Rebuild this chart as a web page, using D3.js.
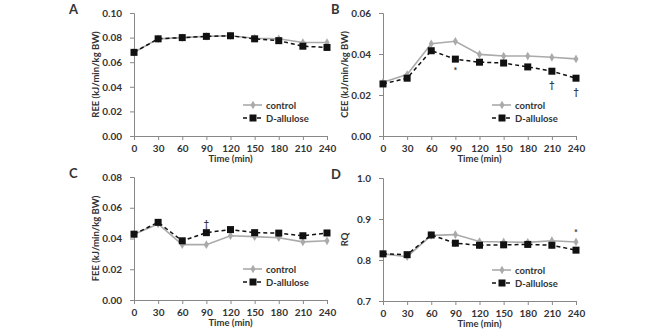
<!DOCTYPE html>
<html>
<head>
<meta charset="utf-8">
<script src="https://cdn.jsdelivr.net/npm/d3@7"></script>
<style>
  body { margin: 0; background: #fff; }
  svg text { font-family: Lato, "Open Sans", sans-serif; font-weight: bold; fill: #333; }
</style>
</head>
<body>
<svg id="chart" width="660" height="330"></svg>
<script>
// time points (min)
const times = [0, 30, 60, 90, 120, 150, 180, 210, 240];

// panel A: REE
const reeControl = [0.068, 0.079, 0.080, 0.081, 0.0815, 0.0795, 0.079, 0.076, 0.076];
const reeAllulose = [0.068, 0.079, 0.080, 0.081, 0.0815, 0.079, 0.0775, 0.073, 0.072];

// panel B: CEE
const ceeControl = [0.0262, 0.0300, 0.0450, 0.0462, 0.0398, 0.0390, 0.0390, 0.0384, 0.0376];
const ceeAllulose = [0.0254, 0.0282, 0.0416, 0.0375, 0.0360, 0.0356, 0.0337, 0.0316, 0.0282];

// panel C: FEE
const feeControl = [0.0428, 0.0495, 0.0360, 0.0360, 0.0418, 0.0412, 0.0405, 0.0378, 0.0385];
const feeAllulose = [0.0428, 0.0505, 0.0385, 0.0438, 0.0458, 0.0438, 0.0435, 0.0418, 0.0436];

// panel D: RQ
const rqControl = [0.815, 0.808, 0.860, 0.862, 0.845, 0.844, 0.843, 0.847, 0.844];
const rqAllulose = [0.815, 0.813, 0.861, 0.841, 0.836, 0.837, 0.838, 0.836, 0.824];
const rqErr = [0.006, 0.006, 0.006, 0.008, 0.008, 0.008, 0.007, 0.008, 0.007];

const panels = [
  { letter: "A", ylab: "REE (kJ/min/kg BW)", yDomain: [0, 0.10], yTicks: [0, 0.02, 0.04, 0.06, 0.08, 0.10], fmt: ".2f",
    ctrl: reeControl, allu: reeAllulose, err: null, x0: 134, y0: 13, marks: [] },
  { letter: "B", ylab: "CEE (kJ/min/kg BW)", yDomain: [0, 0.06], yTicks: [0, 0.02, 0.04, 0.06], fmt: ".2f",
    ctrl: ceeControl, allu: ceeAllulose, err: null, x0: 383, y0: 13,
    marks: [{ t: 90, s: "*", dy: 11 }, { t: 210, s: "†", dy: 13 }, { t: 240, s: "†", dy: 13 }] },
  { letter: "C", ylab: "FEE (kJ/min/kg BW)", yDomain: [0, 0.08], yTicks: [0, 0.02, 0.04, 0.06, 0.08], fmt: ".2f",
    ctrl: feeControl, allu: feeAllulose, err: null, x0: 134, y0: 177,
    marks: [{ t: 90, s: "†", dy: -6 }] },
  { letter: "D", ylab: "RQ", yDomain: [0.7, 1.0], yTicks: [0.7, 0.8, 0.9, 1.0], fmt: ".1f",
    ctrl: rqControl, allu: rqAllulose, err: rqErr, x0: 383, y0: 178,
    marks: [{ t: 240, s: "*", dy: -14 }] }
];

const W = 193, H = 123;
const svg = d3.select("#chart");

panels.forEach(p => {
  const g = svg.append("g").attr("transform", `translate(${p.x0},${p.y0})`);
  const x = d3.scaleLinear().domain([0, 240]).range([0, W]);
  const y = d3.scaleLinear().domain(p.yDomain).range([H, 0]);

  const yAxis = g.append("g").call(d3.axisLeft(y).tickValues(p.yTicks).tickFormat(d3.format(p.fmt)).tickSize(4).tickPadding(8));
  const xAxis = g.append("g").attr("transform", `translate(0,${H})`)
    .call(d3.axisBottom(x).tickValues(times).tickSize(4).tickPadding(5));
  [yAxis, xAxis].forEach(a => {
    a.select(".domain").attr("stroke", "#888");
    a.selectAll(".tick line").attr("stroke", "#888");
    a.selectAll("text").style("font-size", "10px").attr("fill", "#333");
  });

  g.append("text").attr("x", W / 2).attr("y", H + 26).attr("text-anchor", "middle")
    .style("font-size", "9.5px").text("Time (min)");
  g.append("text").attr("transform", `translate(-35,${H / 2}) rotate(-90)`).attr("text-anchor", "middle")
    .style("font-size", "9.5px").text(p.ylab);
  g.append("text").attr("x", p.letter === "A" || p.letter === "C" ? -65 : -52).attr("y", 1)
    .style("font-size", "13px").attr("fill", "#111").text(p.letter);

  const line = d3.line().x((d, i) => x(times[i])).y(d => y(d));

  // error bars
  if (p.err) {
    [[p.ctrl, "#aaa"], [p.allu, "#222"]].forEach(([s, c]) => {
      g.append("g").selectAll("line").data(s).join("line")
        .attr("x1", (d, i) => x(times[i])).attr("x2", (d, i) => x(times[i]))
        .attr("y1", (d, i) => y(d - p.err[i])).attr("y2", (d, i) => y(d + p.err[i]))
        .attr("stroke", c).attr("stroke-width", 1);
    });
  }

  g.append("path").datum(p.ctrl).attr("d", line).attr("fill", "none")
    .attr("stroke", "#aaa").attr("stroke-width", 1.6);
  g.append("path").datum(p.allu).attr("d", line).attr("fill", "none")
    .attr("stroke", "#111").attr("stroke-width", 1.5).attr("stroke-dasharray", "4,3");

  g.append("g").selectAll("path").data(p.ctrl).join("path")
    .attr("d", d3.symbol(d3.symbolDiamond, 22))
    .attr("transform", (d, i) => `translate(${x(times[i])},${y(d)})`).attr("fill", "#aaa");
  g.append("g").selectAll("rect").data(p.allu).join("rect")
    .attr("x", (d, i) => x(times[i]) - 3.5).attr("y", d => y(d) - 3.5)
    .attr("width", 7).attr("height", 7).attr("fill", "#111");

  // significance marks
  p.marks.forEach(m => {
    const i = times.indexOf(m.t);
    g.append("text").attr("x", x(m.t)).attr("y", y(p.allu[i]) + m.dy + (m.dy > 0 ? 4 : 0))
      .attr("text-anchor", "middle").style("font-size", "9px").text(m.s);
  });

  // legend
  const lg = g.append("g").attr("transform", `translate(109,${H - 31})`);
  lg.append("line").attr("x1", 0).attr("x2", 19).attr("y1", 0).attr("y2", 0).attr("stroke", "#aaa").attr("stroke-width", 1.6);
  lg.append("path").attr("d", d3.symbol(d3.symbolDiamond, 22)).attr("transform", "translate(10,0)").attr("fill", "#aaa");
  lg.append("text").attr("x", 23).attr("y", 3.5).style("font-size", "9.5px").text("control");
  lg.append("line").attr("x1", 0).attr("x2", 19).attr("y1", 13).attr("y2", 13).attr("stroke", "#111")
    .attr("stroke-width", 1.5).attr("stroke-dasharray", "4,3");
  lg.append("rect").attr("x", 6.5).attr("y", 9.5).attr("width", 7).attr("height", 7).attr("fill", "#111");
  lg.append("text").attr("x", 23).attr("y", 16.5).style("font-size", "9.5px").text("D-allulose");
});
</script>
</body>
</html>
